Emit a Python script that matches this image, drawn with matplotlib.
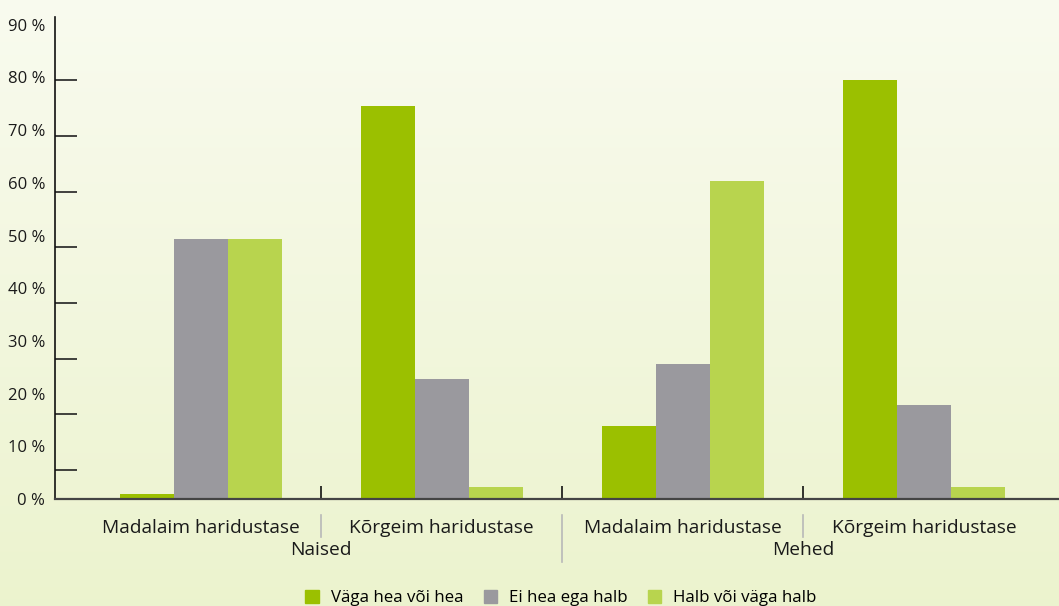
import numpy as np
import matplotlib
matplotlib.use("Agg")
import matplotlib.pyplot as plt
from matplotlib.patches import Patch
from matplotlib.transforms import blended_transform_factory

plt.rcParams['font.family'] = ['Open Sans', 'DejaVu Sans']

# andmed
groups = ["Naised", "Mehed"]
categories = ["Madalaim haridustase", "Kõrgeim haridustase",
              "Madalaim haridustase", "Kõrgeim haridustase"]
series = ["Väga hea või hea", "Ei hea ega halb", "Halb või väga halb"]
vaga_hea = [1.0, 74.6, 13.9, 79.5]
ei_hea = [49.3, 22.8, 25.6, 17.8]
halb = [49.3, 2.3, 60.3, 2.3]
y_labels = ["0 %", "10 %", "20 %", "30 %", "40 %", "50 %", "60 %", "70 %", "80 %", "90 %"]

colors = ["#9bc000", "#9a999e", "#b8d44e"]

W, H = 1059, 606
fig = plt.figure(figsize=(W / 100, H / 100), dpi=100)

# taust (gradient)
bg = fig.add_axes([0, 0, 1, 1], zorder=-10)
grad = np.linspace(0, 1, 256).reshape(-1, 1)
top = np.array([0.976, 0.984, 0.937])
bot = np.array([0.925, 0.953, 0.808])
img = top + (bot - top) * grad[..., None]
bg.imshow(img, aspect="auto", extent=[0, 1, 0, 1])
bg.axis("off")

x0, y0 = 55, 499
ax = fig.add_axes([x0 / W, (H - y0) / H, (W - x0) / W, (y0 - 17) / H])
ax.set_facecolor("none")

x = np.arange(len(categories))
w = 54 / 241
for i, (vals, c) in enumerate(zip([vaga_hea, ei_hea, halb], colors)):
    ax.bar(x + (i - 1) * w, vals, width=w, color=c, zorder=2)

ax.set_xlim(-0.5 - 25 / 241, 3 + 135 / 241)
ax.set_ylim(0, (y0 - 17) / 5.27)

for s in ["top", "right"]:
    ax.spines[s].set_visible(False)
ax.spines["bottom"].set_color("#444444")
ax.spines["bottom"].set_linewidth(1.6)
ax.spines["bottom"].set_zorder(3)
ax.spines["left"].set_color("#111111")
ax.spines["left"].set_linewidth(1.2)

ax.set_yticks(np.arange(0, 100, 10))
ax.set_yticklabels(y_labels, fontsize=12, color="#1a1a1a")
ax.tick_params(axis="y", which="major", length=0, pad=7)
ax.set_yticks(np.linspace(90, 5.5, 9), minor=True)
ax.tick_params(axis="y", which="minor", direction="in", length=16, width=1.2, color="#222222")

ax.set_xticks([0.5, 1.5, 2.5])
ax.set_xticklabels([])
ax.tick_params(axis="x", direction="in", length=9.5, width=1.2, color="#111111")

tr = blended_transform_factory(ax.transData, fig.transFigure)
for xi, lab in zip(x, categories):
    ax.text(xi, 1 - 528 / H, lab, transform=tr, ha="center", va="center",
            fontsize=13.8, color="#1a1a1a")
for gi, g in enumerate(groups):
    ax.text(0.5 + 2 * gi, 1 - 550 / H, g, transform=tr, ha="center", va="center",
            fontsize=13.8, color="#1a1a1a")

# eraldusjooned
for xs, y_end in [(0.5, 537), (1.5, 562), (2.5, 537)]:
    ax.plot([xs, xs], [1 - 515 / H, 1 - y_end / H], transform=tr,
            color="#b8b8b8", lw=1.2, clip_on=False)

handles = [Patch(color=c, label=s) for c, s in zip(colors, series)]
fig.legend(handles=handles, loc="center", ncol=3, frameon=False,
           bbox_to_anchor=(561 / W, 1 - 598 / H), fontsize=12.2,
           handlelength=0.8, handleheight=0.8, handletextpad=0.7, columnspacing=1.2)

fig.savefig("out.png", dpi=100)
